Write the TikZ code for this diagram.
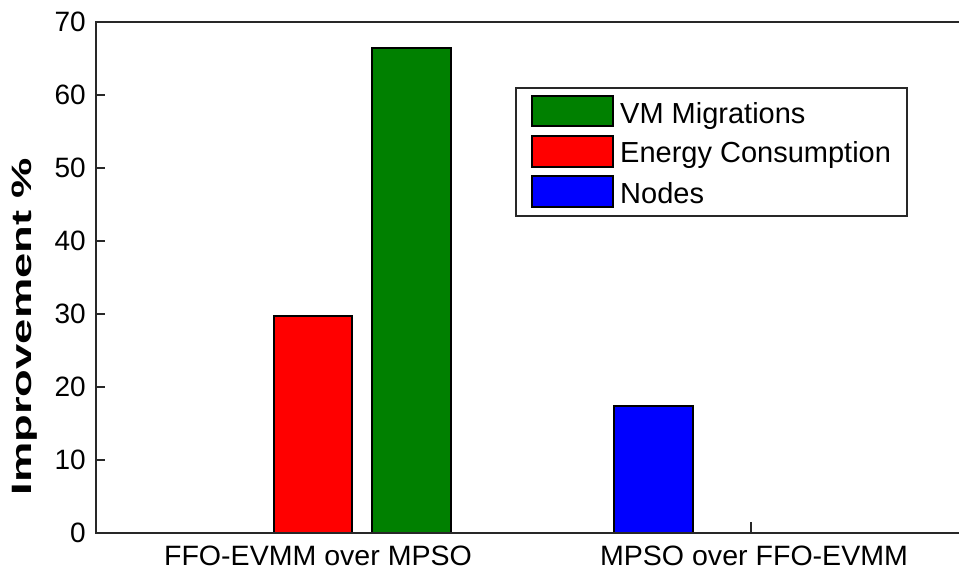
\documentclass[tikz,border=0pt]{standalone}
\usepackage{fontspec}
\setmainfont{Liberation Sans}
\definecolor{mgreen}{RGB}{0,128,0}
\definecolor{axisgray}{RGB}{40,40,40}
\begin{document}
\begin{tikzpicture}[x=1pt,y=-1pt,
  axisline/.style={draw=axisgray,line width=2pt},
  bar/.style={draw=black,line width=2pt},
  ticklab/.style={font=\fontsize{28}{30}\selectfont,inner sep=0pt},
  leglab/.style={font=\fontsize{29}{31}\selectfont,anchor=base west,inner sep=0pt}]
\useasboundingbox (0,0) rectangle (959,571);
% bars
\draw[bar,fill=red] (274.3,533) rectangle (352.3,316);
\draw[bar,fill=mgreen] (372,533) rectangle (450.7,48);
\draw[bar,fill=blue] (614,533) rectangle (692.7,406);
% axes
\draw[axisline] (959,22) -- (96,22) -- (96,533) -- (959,533);
% y ticks
\foreach \v in {0,10,...,70}{
  \pgfmathsetmacro{\yy}{533-7.3*\v}
  \draw[axisgray,line width=1.5pt] (96,\yy) -- (105,\yy);
  \node[ticklab,anchor=east] (yt\v) at (86,\yy) {\v};
}
% x ticks
\draw[axisgray,line width=1.5pt] (751,533) -- (751,522);
\node[ticklab,anchor=base] (xl1) at (318,565.5) {\scalebox{1.02}[1]{FFO-EVMM over MPSO}};
\node[ticklab,anchor=base] (xl2) at (754,565.5) {\scalebox{1.02}[1]{MPSO over FFO-EVMM}};
% y label
\node[font=\bfseries\fontsize{28}{30}\selectfont,rotate=90,inner sep=0pt] (ylab) at (25,326.5) {\scalebox{1.62}[1]{Improvement \%}};
% legend
\draw[draw=axisgray,line width=2pt,fill=white] (516,88.3) rectangle (906.7,215.7);
\draw[bar,fill=mgreen] (531.7,96) rectangle (612.7,126);
\draw[bar,fill=red] (531.7,136) rectangle (612.7,166.7);
\draw[bar,fill=blue] (531.7,176) rectangle (612.7,206.7);
\node[leglab] (l1) at (620,123) {VM Migrations};
\node[leglab] (l2) at (620,162.5) {Energy Consumption};
\node[leglab] (l3) at (620,203) {Nodes};
\end{tikzpicture}
\end{document}
